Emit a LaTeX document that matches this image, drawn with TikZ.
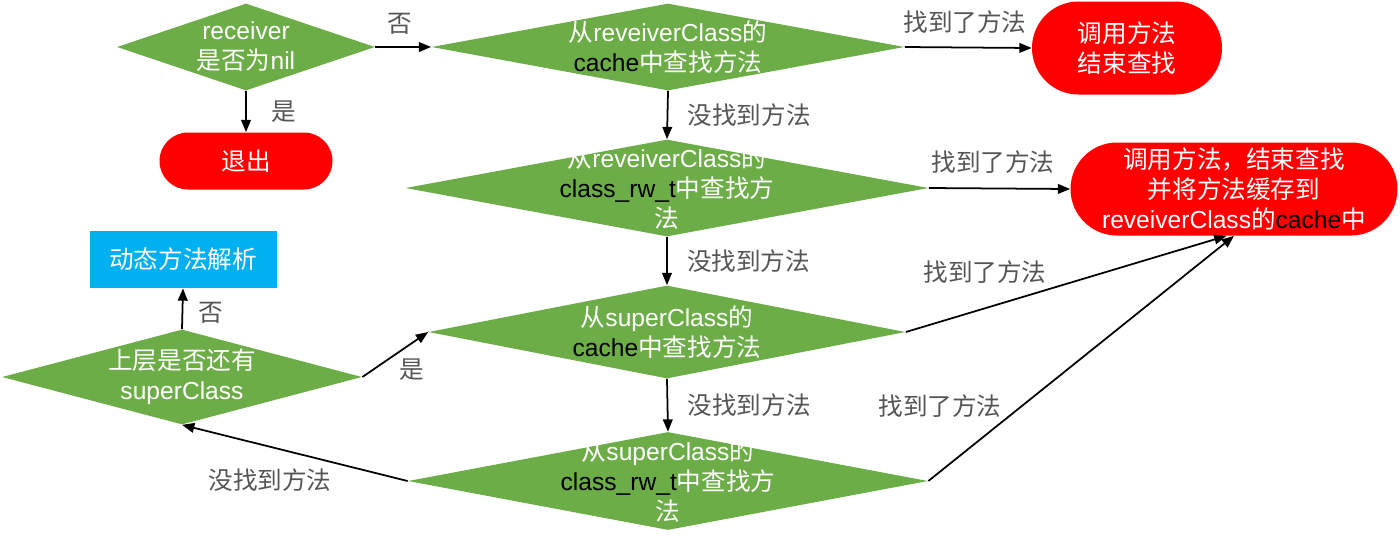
\documentclass[tikz,border=0pt]{standalone}
\usepackage{fontspec}
\setmainfont{Liberation Sans}
\newfontfamily\cjk{Noto Sans CJK SC}
\usepackage{tikz}
\usetikzlibrary{shapes.geometric,arrows.meta,positioning,calc}
\definecolor{pruefgruen}{RGB}{108,173,71}
\definecolor{endrot}{RGB}{255,0,0}
\definecolor{kastenblau}{RGB}{0,176,240}
\definecolor{beschrgrau}{RGB}{85,85,85}
\tikzset{
  pruef/.style={diamond, fill=pruefgruen, inner sep=0pt},
  pruefext/.style={align=center, text=white, inner sep=0pt, font=\fontsize{14}{17}\selectfont},
  ende/.style={rectangle, fill=endrot, align=center, text=white, inner sep=0pt, font=\fontsize{14}{17}\selectfont},
  kasten/.style={rectangle, fill=kastenblau, align=center, text=white, inner sep=0pt, font=\fontsize{14}{17}\selectfont},
  pfeil/.style={draw=black, line width=1pt, -{Triangle[length=7pt,width=5.5pt]}},
  beschr/.style={text=beschrgrau, inner sep=1pt, font=\fontsize{14}{17}\selectfont\cjk}
}
\newcommand{\zh}[1]{{\cjk #1}}
\newcommand{\schwarz}[1]{{\color{black}#1}}

\begin{document}
\begin{tikzpicture}
\useasboundingbox (0,0) rectangle (28,-10.7);

% Pruefungen
\node[pruef, minimum width=5.16cm, minimum height=1.74cm] (nil) at (4.92,-0.94) {};
\node[pruefext] (nil-t) at (nil) {receiver\\\zh{是否为}nil};
\node[pruef, minimum width=9.46cm, minimum height=1.74cm] (rc-cache) at (13.36,-0.94) {};
\node[pruefext] (rc-cache-t) at (rc-cache) {\zh{从}reveiverClass\zh{的}\\\schwarz{cache}\zh{中查找方法}};
\node[pruef, minimum width=10.46cm, minimum height=1.94cm] (rc-rw) at (13.34,-3.76) {};
\node[pruefext] (rc-rw-t) at (rc-rw) {\zh{从}reveiverClass\zh{的}\\\schwarz{class\_rw\_t}\zh{中查找方}\\\zh{法}};
\node[pruef, minimum width=9.54cm, minimum height=1.86cm] (sc-cache) at (13.34,-6.64) {};
\node[pruefext] (sc-cache-t) at (sc-cache) {\zh{从}superClass\zh{的}\\\schwarz{cache}\zh{中查找方法}};
\node[pruef, minimum width=10.4cm, minimum height=1.96cm] (sc-rw) at (13.36,-9.62) {};
\node[pruefext] (sc-rw-t) at (sc-rw) {\zh{从}superClass\zh{的}\\\schwarz{class\_rw\_t}\zh{中查找方}\\\zh{法}};
\node[pruef, minimum width=7.2cm, minimum height=1.9cm] (hat-super) at (3.64,-7.54) {};
\node[pruefext] (hat-super-t) at (hat-super) {\zh{上层是否还有}\\superClass};

% Enden
\node[ende, minimum width=3.46cm, minimum height=1.14cm, rounded corners=0.57cm] (exit) at (4.92,-3.22) {\zh{退出}};
\node[ende, minimum width=3.8cm, minimum height=1.86cm, rounded corners=0.93cm] (call) at (22.54,-0.96) {\zh{调用方法}\\\zh{结束查找}};
\node[ende, minimum width=6.54cm, minimum height=1.86cm, rounded corners=0.93cm] (call-cache) at (24.68,-3.78)
  {\zh{调用方法，结束查找}\\\zh{并将方法缓存到}\\reveiverClass\zh{的}\schwarz{cache}\zh{中}};
\node[kasten, minimum width=3.74cm, minimum height=1.14cm] (dyn) at (3.66,-5.19) {\zh{动态方法解析}};

% Kanten
\draw[pfeil] (nil.east) -- (rc-cache.west);
\node[beschr] at (8.0,-0.48) {否};
\draw[pfeil] (nil.south) -- (exit.north);
\node[beschr] at (5.68,-2.24) {是};

\draw[pfeil] (rc-cache.east) -- (call.west);
\node[beschr] at (19.3,-0.44) {找到了方法};
\draw[pfeil] (rc-cache.south) -- node[beschr, right=0.35cm] {没找到方法} (rc-rw.north);

\draw[pfeil] (rc-rw.east) -- (call-cache.west);
\node[beschr] at (19.86,-3.24) {找到了方法};
\draw[pfeil] (rc-rw.south) -- node[beschr, right=0.35cm] {没找到方法} (sc-cache.north);

\draw[pfeil] (sc-cache.east) -- ([xshift=-0.15cm]call-cache.south);
\node[beschr] at (19.7,-5.44) {找到了方法};
\draw[pfeil] (sc-cache.south) -- node[beschr, right=0.35cm] {没找到方法} (sc-rw.north);

\draw[pfeil] (sc-rw.east) -- (call-cache.south);
\node[beschr] at (18.8,-8.12) {找到了方法};
\draw[pfeil] (sc-rw.west) -- (hat-super.south);
\node[beschr] at (5.4,-9.6) {没找到方法};

\draw[pfeil] (hat-super.east) -- (sc-cache.west);
\node[beschr] at (8.24,-7.4) {是};
\draw[pfeil] (hat-super.north) -- (dyn.south);
\node[beschr] at (4.22,-6.26) {否};

\end{tikzpicture}
\end{document}
